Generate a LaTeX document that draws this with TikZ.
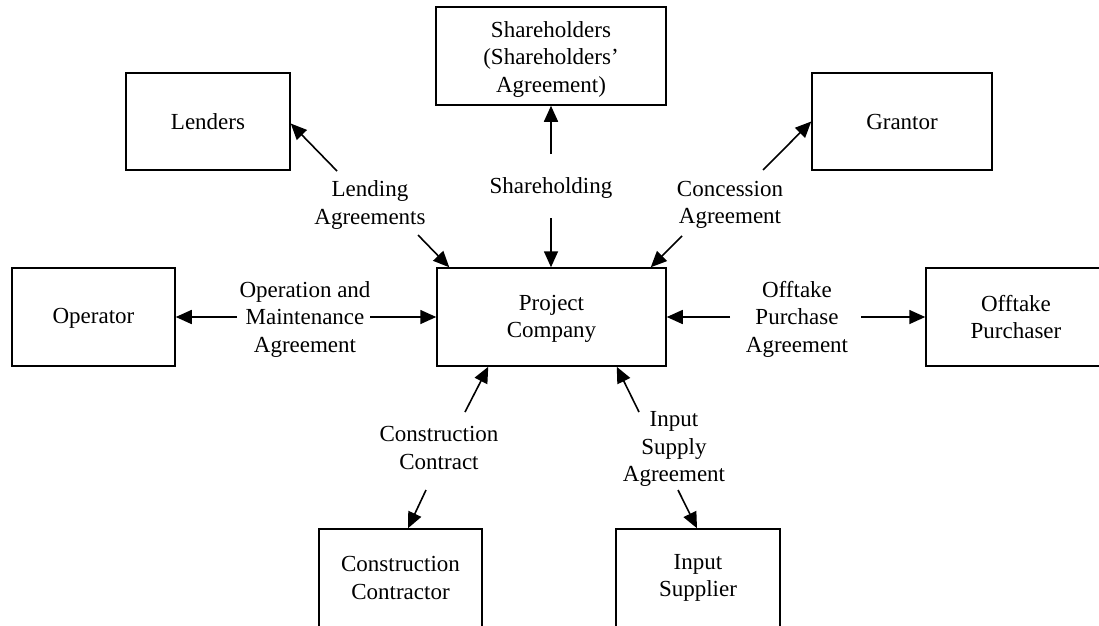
\documentclass[tikz,border=0pt]{standalone}
\usepackage{fontspec}
\setmainfont{Liberation Serif}
\usetikzlibrary{arrows.meta}
\begin{document}
\begin{tikzpicture}[x=1pt,y=-1pt,
  box/.style={draw, line width=1.5pt, align=center, inner sep=0pt,
    minimum height=98pt, font=\fontsize{23}{27.5}\selectfont},
  lbl/.style={align=center, inner sep=0pt, font=\fontsize{23}{27.5}\selectfont},
  arr/.style={line width=1.6pt, -{Triangle[length=16pt,width=14pt]}}]
\useasboundingbox (0,0) rectangle (1099,625);
\clip (0,0) rectangle (1099,625);
% boxes
\node[box, minimum width=230pt] (sh) at (551,56) {};
\node[lbl] (sht) at (551,59) {Shareholders\\(Shareholders’\\Agreement)};
\node[box, minimum width=164pt, minimum height=97pt] (lend) at (208,121.5) {Lenders};
\node[box, minimum width=180pt, minimum height=97pt] (gr) at (902,121.5) {Grantor};
\node[box, minimum width=163pt] (op) at (93.5,317) {};
\node[lbl] (opt) at (93.5,318.5) {Operator};
\node[box, minimum width=229pt] (proj) at (551.5,317) {};
\node[lbl] (projt) at (551.5,319) {Project\\Company};
\node[box, minimum width=180pt] (off) at (1016,317) {Offtake\\Purchaser};
\node[box, minimum width=163pt] (cc) at (400.5,578) {Construction\\Contractor};
\node[box, minimum width=164pt] (is) at (698,578) {Input\\Supplier};
% labels
\node[lbl] (llend) at (370,205) {Lending\\Agreements};
\node[lbl] (lsh) at (551,188) {Shareholding};
\node[lbl] (lcon) at (730,205) {Concession\\Agreement};
\node[lbl] (lom) at (305,319) {Operation and\\Maintenance\\Agreement};
\node[lbl] (loff) at (797,319) {Offtake\\Purchase\\Agreement};
\node[lbl] (lcc) at (439,448) {Construction\\Contract};
\node[lbl] (lis) at (674,449) {Input\\Supply\\Agreement};
% tail coordinates
\coordinate (t1) at (337,171);
\coordinate (t2) at (418,235);
\coordinate (t3) at (551,154);
\coordinate (t4) at (551,218);
\coordinate (t5) at (763,170);
\coordinate (t6) at (682,236);
\coordinate (t7) at (237,317);
\coordinate (t8) at (370,317);
\coordinate (t9) at (730,317);
\coordinate (t10) at (861,317);
\coordinate (t11) at (465,412);
\coordinate (t12) at (426,490);
\coordinate (t13) at (639,412);
\coordinate (t14) at (678,490);
% arrows
\draw[arr] (t1) -- ([yshift=-2pt]lend.east);
\draw[arr] (t2) -- ([xshift=13pt]proj.north west);
\draw[arr] (t3) -- (sh.south);
\draw[arr] (t4) -- ([xshift=-0.5pt]proj.north);
\draw[arr] (t5) -- (gr.west);
\draw[arr] (t6) -- ([xshift=-16pt]proj.north east);
\draw[arr] (t7) -- (op.east);
\draw[arr] (t8) -- (proj.west);
\draw[arr] (t9) -- (proj.east);
\draw[arr] (t10) -- (off.west);
\draw[arr] (t11) -- ([xshift=52pt]proj.south west);
\draw[arr] (t12) -- ([xshift=7.5pt]cc.north);
\draw[arr] (t13) -- ([xshift=-50pt]proj.south east);
\draw[arr] (t14) -- ([xshift=-1pt]is.north);
\end{tikzpicture}
\end{document}
